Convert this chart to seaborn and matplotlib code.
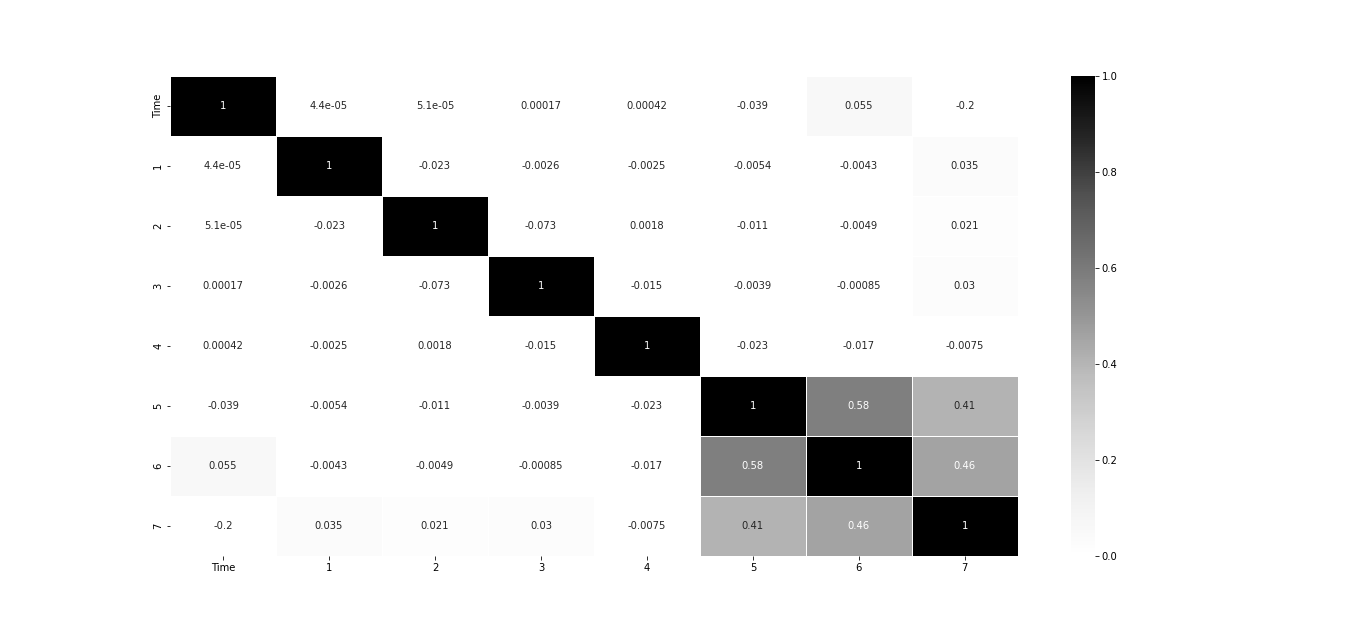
import numpy as np
import matplotlib
matplotlib.use('Agg')
import matplotlib.pyplot as plt
import pandas as pd
import seaborn as sns

etykiety = ['Time', '1', '2', '3', '4', '5', '6', '7']

r_time = [1, 4.4e-05, 5.1e-05, 0.00017, 0.00042, -0.039, 0.055, -0.2]
r_1 = [4.4e-05, 1, -0.023, -0.0026, -0.0025, -0.0054, -0.0043, 0.035]
r_2 = [5.1e-05, -0.023, 1, -0.073, 0.0018, -0.011, -0.0049, 0.021]
r_3 = [0.00017, -0.0026, -0.073, 1, -0.015, -0.0039, -0.00085, 0.03]
r_4 = [0.00042, -0.0025, 0.0018, -0.015, 1, -0.023, -0.017, -0.0075]
r_5 = [-0.039, -0.0054, -0.011, -0.0039, -0.023, 1, 0.58, 0.41]
r_6 = [0.055, -0.0043, -0.0049, -0.00085, -0.017, 0.58, 1, 0.46]
r_7 = [-0.2, 0.035, 0.021, 0.03, -0.0075, 0.41, 0.46, 1]

korelacje = pd.DataFrame([r_time, r_1, r_2, r_3, r_4, r_5, r_6, r_7],
                         index=etykiety, columns=etykiety)

fig = plt.figure(figsize=(1366 / 72, 635 / 72), dpi=72)
ax = sns.heatmap(korelacje, annot=True, cmap='Greys', vmin=0, vmax=1,
                 linewidths=1, linecolor='white')
plt.subplots_adjust(left=0.1245, right=0.9003, top=0.88, bottom=0.1245)
plt.savefig('out.png', dpi=72)
